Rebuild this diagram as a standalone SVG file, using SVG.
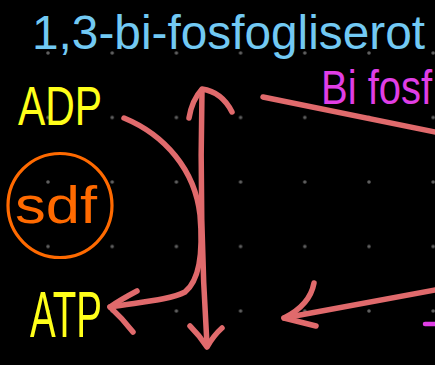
<svg xmlns="http://www.w3.org/2000/svg" width="435" height="365" viewBox="0 0 435 365">
<defs>
<style>
.dot{fill:#5f5f5f}
.red{fill:none;stroke:#e06a6c;stroke-width:5.5;stroke-linecap:round;stroke-linejoin:round}
.hand{font-family:"Liberation Sans","DejaVu Sans",sans-serif;font-weight:normal}
</style>
<pattern id="grid" x="48" y="53" width="64.2" height="64.5" patternUnits="userSpaceOnUse">
<circle cx="0" cy="0" r="1.8" class="dot"/>
<circle cx="64.2" cy="0" r="1.8" class="dot"/>
<circle cx="0" cy="64.5" r="1.8" class="dot"/>
<circle cx="64.2" cy="64.5" r="1.8" class="dot"/>
</pattern>
</defs>
<rect width="435" height="365" fill="#000"/>
<rect x="40" y="45" width="400" height="275" fill="url(#grid)"/>
<g id="title">
<text class="hand" x="32" y="49" font-size="48" fill="#72c9f3" textLength="393" lengthAdjust="spacingAndGlyphs">1,3-bi-fosfogliserot</text>
</g>
<g id="bifosf">
<text class="hand" x="0" y="0" font-size="40" fill="#e03ee6" transform="translate(321,104) scale(1,1.2)">Bi fosf</text>
<line x1="425" y1="324" x2="440" y2="324" stroke="#e03ee6" stroke-width="4.5" stroke-linecap="round"/>
</g>
<g id="adp">
<text class="hand" x="18" y="125" font-size="56" fill="#ffff1a" textLength="84" lengthAdjust="spacingAndGlyphs">ADP</text>
</g>
<g id="atp">
<text class="hand" x="30" y="337" font-size="64" fill="#ffff1a" textLength="72" lengthAdjust="spacingAndGlyphs">ATP</text>
</g>
<g id="sdf">
<circle cx="60" cy="205.5" r="52" fill="none" stroke="#ff6a00" stroke-width="3.2"/>
<text class="hand" x="15" y="223" font-size="52" fill="#ff6a00" textLength="82" lengthAdjust="spacingAndGlyphs">sdf</text>
</g>
<g id="connectors">
<path class="red" d="M202,90 Q199,220 207,345"/>
<path class="red" d="M189,118 Q192,100 202,89 Q222,92 232,112"/>
<path class="red" d="M190,326 Q200,336 207,347 Q214,335 222,328"/>
<path class="red" d="M124,118 C165,135 195,170 200,215 C203,250 200,280 185,292 C170,300 140,302 110,307"/>
<path class="red" d="M137,291 Q120,300 110,307 Q122,318 133,332"/>
<path class="red" d="M263,97 L440,133"/>
<path class="red" d="M440,289 L284,318"/>
<path class="red" d="M314,283 Q310,305 284,318 Q300,322 316,326"/>
</g>
</svg>
